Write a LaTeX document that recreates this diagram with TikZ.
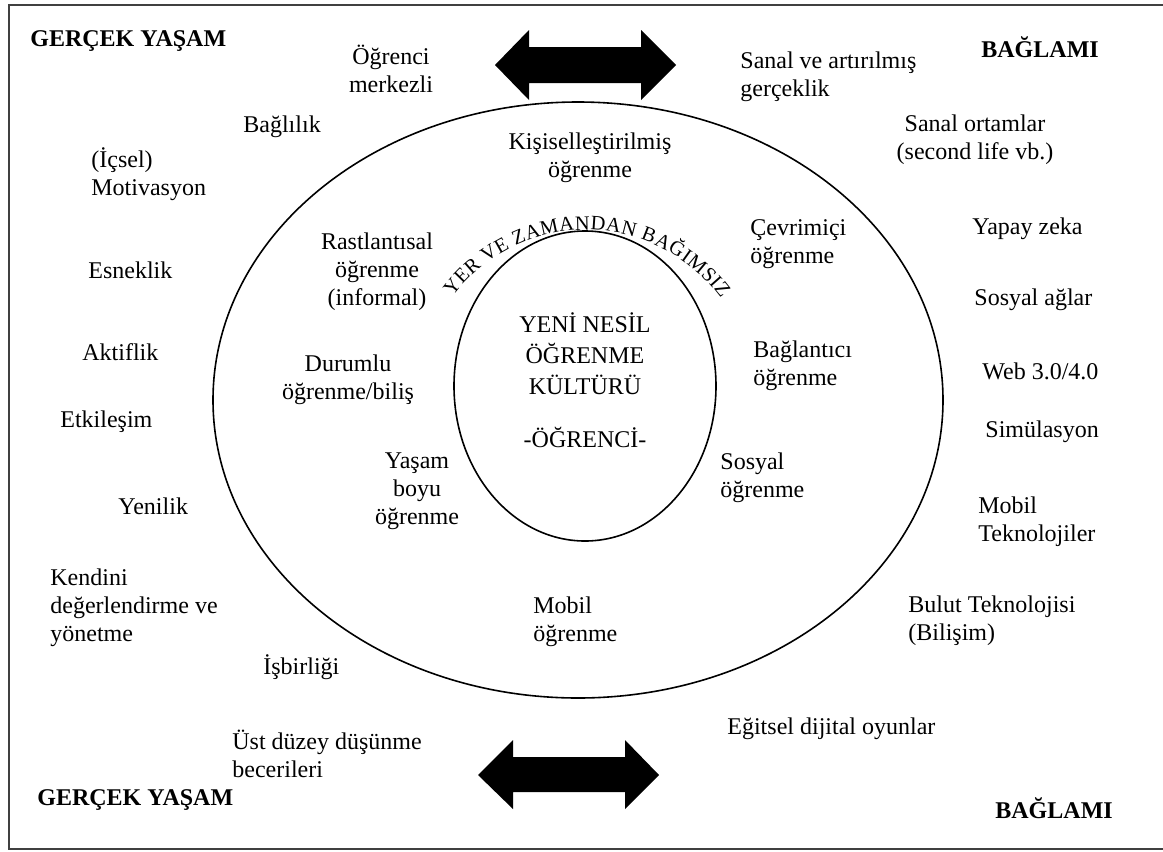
\documentclass[tikz,border=0pt]{standalone}
\usepackage{fontspec}
\setmainfont{Liberation Serif}
\usetikzlibrary{decorations.text}
\tikzset{
  txt/.style={inner sep=0pt,font=\fontsize{12}{14}\selectfont,align=left,anchor=west},
  ctxt/.style={txt,align=center,anchor=center},
  head/.style={txt,font=\fontsize{12}{14}\selectfont\bfseries},
  ring/.style={draw,line width=0.8pt},
  frame/.style={draw=black!75,line width=1pt}
}
\begin{document}
\begin{tikzpicture}[x=0.5pt,y=-0.5pt]
\useasboundingbox (0,0) rectangle (1163,852);
\draw[frame] (9,5) rectangle (1175,849);
\draw[ring] (578,400) ellipse [x radius=365,y radius=298];
\draw[ring] (585,386) ellipse [x radius=131,y radius=155];
\fill (495,65) -- (529,30) -- (529,47) -- (641,47) -- (641,30) -- (676,65) -- (641,100) -- (641,83) -- (529,83) -- (529,100) -- cycle;
\fill (478,775) -- (513,740) -- (513,757) -- (625,757) -- (625,740) -- (659,775) -- (625,809) -- (625,792) -- (513,792) -- (513,809) -- cycle;
\path[decorate,decoration={text along path,text format delimiters={|}{|},
  text={|\fontsize{10.2}{11}\selectfont|YER VE ZAMANDAN BAĞIMSIZ},text align=fit to path}]
  (586,397) ++(-143:167) arc[start angle=-143,end angle=-36,radius=167];
\node[ctxt,font=\fontsize{12}{15.5}\selectfont](Merkez) at (585,380) {YENİ NESİL\\ÖĞRENME\\KÜLTÜRÜ\\[11pt]-ÖĞRENCİ-};
\node[head](GyUst) at (30,41) {GERÇEK YAŞAM};
\node[head](BgUst) at (981,47) {BAĞLAMI};
\node[head](GyAlt) at (37,800) {GERÇEK YAŞAM};
\node[head](BgAlt) at (995,808) {BAĞLAMI};
\node[ctxt](OgrMerk) at (391,69) {Öğrenci\\merkezli};
\node[txt](SanalVe) at (740,77) {Sanal ve artırılmış\\gerçeklik};
\node[txt](Baglilik) at (243,127) {Bağlılık};
\node[ctxt](Kisisel) at (590,158) {Kişiselleştirilmiş\\öğrenme};
\node[ctxt](SanalOrt) at (975,140) {Sanal ortamlar\\(second life vb.)};
\node[txt](Icsel) at (91,174) {(İçsel)\\Motivasyon};
\node[ctxt](Rastl) at (377,272) {Rastlantısal\\öğrenme\\(informal)};
\node[txt](Cevrim) at (750,244) {Çevrimiçi\\öğrenme};
\node[txt](Yapay) at (972,229) {Yapay zeka};
\node[txt](Esnek) at (88,270) {Esneklik};
\node[txt](SosyalAg) at (974,300) {Sosyal ağlar};
\node[txt](Aktif) at (82,352) {Aktiflik};
\node[ctxt](Durum) at (348,380) {Durumlu\\öğrenme/biliş};
\node[txt](Baglanti) at (753,366) {Bağlantıcı\\öğrenme};
\node[txt](Web) at (982,371) {Web 3.0/4.0};
\node[txt](Etkil) at (60,422) {Etkileşim};
\node[txt](Simul) at (985,432) {Simülasyon};
\node[ctxt](Yasam) at (417,491) {Yaşam\\boyu\\öğrenme};
\node[txt](SosyalOgr) at (720,478) {Sosyal\\öğrenme};
\node[txt](Yenilik) at (118,506) {Yenilik};
\node[txt](MobilTek) at (978,522) {Mobil\\Teknolojiler};
\node[txt](Kendini) at (50,608) {Kendini\\değerlendirme ve\\yönetme};
\node[txt](MobilOgr) at (533,622) {Mobil\\öğrenme};
\node[txt](Bulut) at (908,621) {Bulut Teknolojisi\\(Bilişim)};
\node[txt](Isbirligi) at (263,667) {İşbirliği};
\node[txt](Egitsel) at (727,729) {Eğitsel dijital oyunlar};
\node[txt](UstDuzey) at (232,754) {Üst düzey düşünme\\becerileri};
\end{tikzpicture}
\end{document}
